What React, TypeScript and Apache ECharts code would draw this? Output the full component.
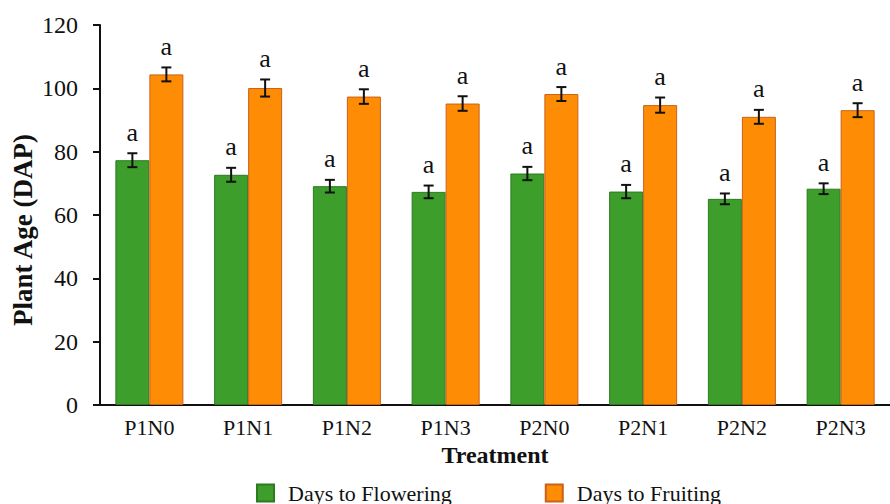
import React, { useEffect, useRef } from "react";
import * as echarts from "echarts";

const categories = ["P1N0", "P1N1", "P1N2", "P1N3", "P2N0", "P2N1", "P2N2", "P2N3"];
const flowering = [77.3, 72.7, 69.1, 67.3, 73.1, 67.4, 65.1, 68.3];
const floweringErr = [2.2, 2.2, 2.0, 2.0, 2.1, 2.1, 1.7, 1.7];
const fruiting = [104.4, 100.1, 97.4, 95.2, 98.2, 94.7, 91.0, 93.1];
const fruitingErr = [2.2, 2.7, 2.3, 2.3, 2.2, 2.4, 2.2, 2.2];
const floweringLetters = ["a", "a", "a", "a", "a", "a", "a", "a"];
const fruitingLetters = ["a", "a", "a", "a", "a", "a", "a", "a"];
const yTitle = "Plant Age (DAP)";
const xTitle = "Treatment";

const FONT = "'Liberation Serif', 'Times New Roman', serif";
const BAR_W = 34;

function errSeries(means: number[], errs: number[], letters: string[], offset: number) {
  return {
    type: "custom",
    z: 10,
    silent: true,
    data: means.map((m, i) => [i, m, errs[i]]),
    encode: { x: 0, y: 1 },
    renderItem: (params: any, api: any) => {
      const i = api.value(0);
      const m = api.value(1);
      const e = api.value(2);
      const hi = api.coord([i, m + e]);
      const lo = api.coord([i, m - e]);
      const x = hi[0] + offset;
      const cap = 5;
      const st = { stroke: "#111", lineWidth: 2 };
      return {
        type: "group",
        children: [
          { type: "line", shape: { x1: x, y1: hi[1], x2: x, y2: lo[1] }, style: st },
          { type: "line", shape: { x1: x - cap, y1: hi[1], x2: x + cap, y2: hi[1] }, style: st },
          { type: "line", shape: { x1: x - cap, y1: lo[1], x2: x + cap, y2: lo[1] }, style: st },
          {
            type: "text",
            x: x,
            y: hi[1] - 8,
            style: {
              text: letters[i],
              fill: "#111",
              font: `26px ${FONT}`,
              textAlign: "center",
              textVerticalAlign: "bottom",
            },
          },
        ],
      };
    },
  };
}

export default function App() {
  const ref = useRef<HTMLDivElement>(null);
  useEffect(() => {
    if (!ref.current) return;
    const chart = echarts.init(ref.current, undefined, { renderer: "svg" });
    chart.setOption({
      animation: false,
      backgroundColor: "#ffffff",
      textStyle: { fontFamily: FONT },
      grid: { left: 100, top: 25, width: 806, height: 380, containLabel: false },
      graphic: [
        {
          type: "text",
          x: 23,
          y: 230,
          rotation: Math.PI / 2,
          style: {
            text: yTitle,
            fill: "#111",
            font: `bold 27px ${FONT}`,
            textAlign: "center",
            textVerticalAlign: "middle",
          },
        },
      ],
      legend: {
        left: 256,
        top: 482,
        padding: 0,
        itemWidth: 17,
        itemHeight: 17,
        itemGap: 93,
        textStyle: {
          fontFamily: FONT,
          fontSize: 22,
          color: "#111",
          lineHeight: 18,
          padding: [0, 0, 0, 9],
        },
        data: [
          { name: "Days to Flowering", icon: "rect" },
          { name: "Days to Fruiting", icon: "rect" },
        ],
      },
      xAxis: {
        type: "category",
        data: categories,
        name: xTitle,
        nameLocation: "middle",
        nameGap: 36,
        nameTextStyle: { fontFamily: FONT, fontSize: 24, fontWeight: "bold", color: "#111" },
        axisLine: { lineStyle: { color: "#111", width: 2 } },
        axisTick: { show: false },
        axisLabel: { fontFamily: FONT, fontSize: 22, color: "#111", margin: 11 },
      },
      yAxis: {
        type: "value",
        min: 0,
        max: 120,
        interval: 20,
        axisLine: { show: true, lineStyle: { color: "#111", width: 2 } },
        axisTick: { show: true, length: 7, lineStyle: { color: "#111", width: 2 } },
        axisLabel: { fontFamily: FONT, fontSize: 24, color: "#111", margin: 22 },
        splitLine: { show: false },
      },
      series: [
        {
          name: "Days to Flowering",
          type: "bar",
          data: flowering,
          barWidth: BAR_W,
          barGap: "0%",
          itemStyle: { color: "#3d9e2c", borderColor: "#2d7a20", borderWidth: 1 },
        },
        {
          name: "Days to Fruiting",
          type: "bar",
          data: fruiting,
          barWidth: BAR_W,
          barGap: "0%",
          itemStyle: { color: "#ff8c05", borderColor: "#c9621a", borderWidth: 1 },
        },
        errSeries(flowering, floweringErr, floweringLetters, -BAR_W / 2),
        errSeries(fruiting, fruitingErr, fruitingLetters, BAR_W / 2),
      ],
    });
    return () => chart.dispose();
  }, []);
  return <div ref={ref} style={{ width: 890, height: 504, position: "absolute", left: 0, top: 0 }} />;
}
